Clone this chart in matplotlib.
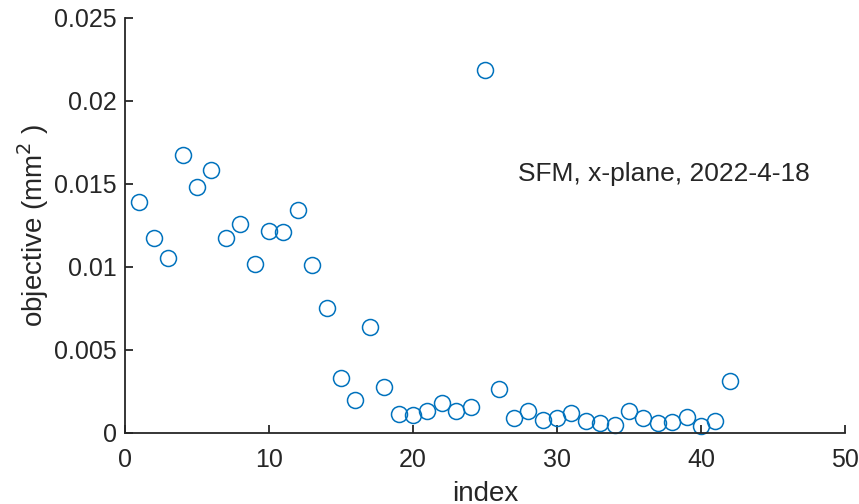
import matplotlib
matplotlib.use('Agg')
import matplotlib.pyplot as plt
import numpy as np

plt.rcParams['font.family'] = ['Liberation Sans', 'DejaVu Sans']

index = np.arange(1, 43)
objective = [
    0.01392, 0.01175, 0.01054, 0.01675, 0.01482, 0.01584, 0.01175, 0.01259,
    0.01018, 0.01217, 0.01211, 0.01343, 0.01012, 0.00753, 0.00331, 0.00199,
    0.00639, 0.00277, 0.00114, 0.00108, 0.00133, 0.00181, 0.00133, 0.00157,
    0.02187, 0.00265, 0.00090, 0.00133, 0.00078, 0.00090, 0.00120, 0.00072,
    0.00060, 0.00048, 0.00133, 0.00090, 0.00060, 0.00066, 0.00096, 0.00042,
    0.00072, 0.00313,
]
note = 'SFM, x-plane, 2022-4-18'

fig = plt.figure(figsize=(8.59, 5.04), dpi=100)
ax = fig.add_axes([0.1455, 0.1409, 0.8382, 0.8234])

ax.plot(index, objective, 'o', markersize=11.5, markerfacecolor='none',
        markeredgecolor='#0072BD', markeredgewidth=1.1, clip_on=False)

ax.set_xlim(0, 50)
ax.set_ylim(0, 0.025)
ax.set_xticks([0, 10, 20, 30, 40, 50])
ax.set_yticks([0, 0.005, 0.01, 0.015, 0.02, 0.025])
ax.set_yticklabels(['0', '0.005', '0.01', '0.015', '0.02', '0.025'])

for side in ['top', 'right']:
    ax.spines[side].set_visible(False)
for side in ['left', 'bottom']:
    ax.spines[side].set_linewidth(1.3)
    ax.spines[side].set_color('#262626')
ax.tick_params(direction='in', length=6, width=1.3, color='#262626',
               labelsize=18, labelcolor='#262626')
ax.tick_params(axis='x', pad=11)
ax.tick_params(axis='y', pad=6)

ax.set_xlabel('index', fontsize=20, color='#262626', labelpad=6)
ax.set_ylabel('objective (mm$^2$ )', fontsize=20, color='#262626', labelpad=2)

ax.text(37.4, 0.0156, note, fontsize=19, color='#262626', ha='center', va='center')

fig.savefig('out.png', dpi=100)
